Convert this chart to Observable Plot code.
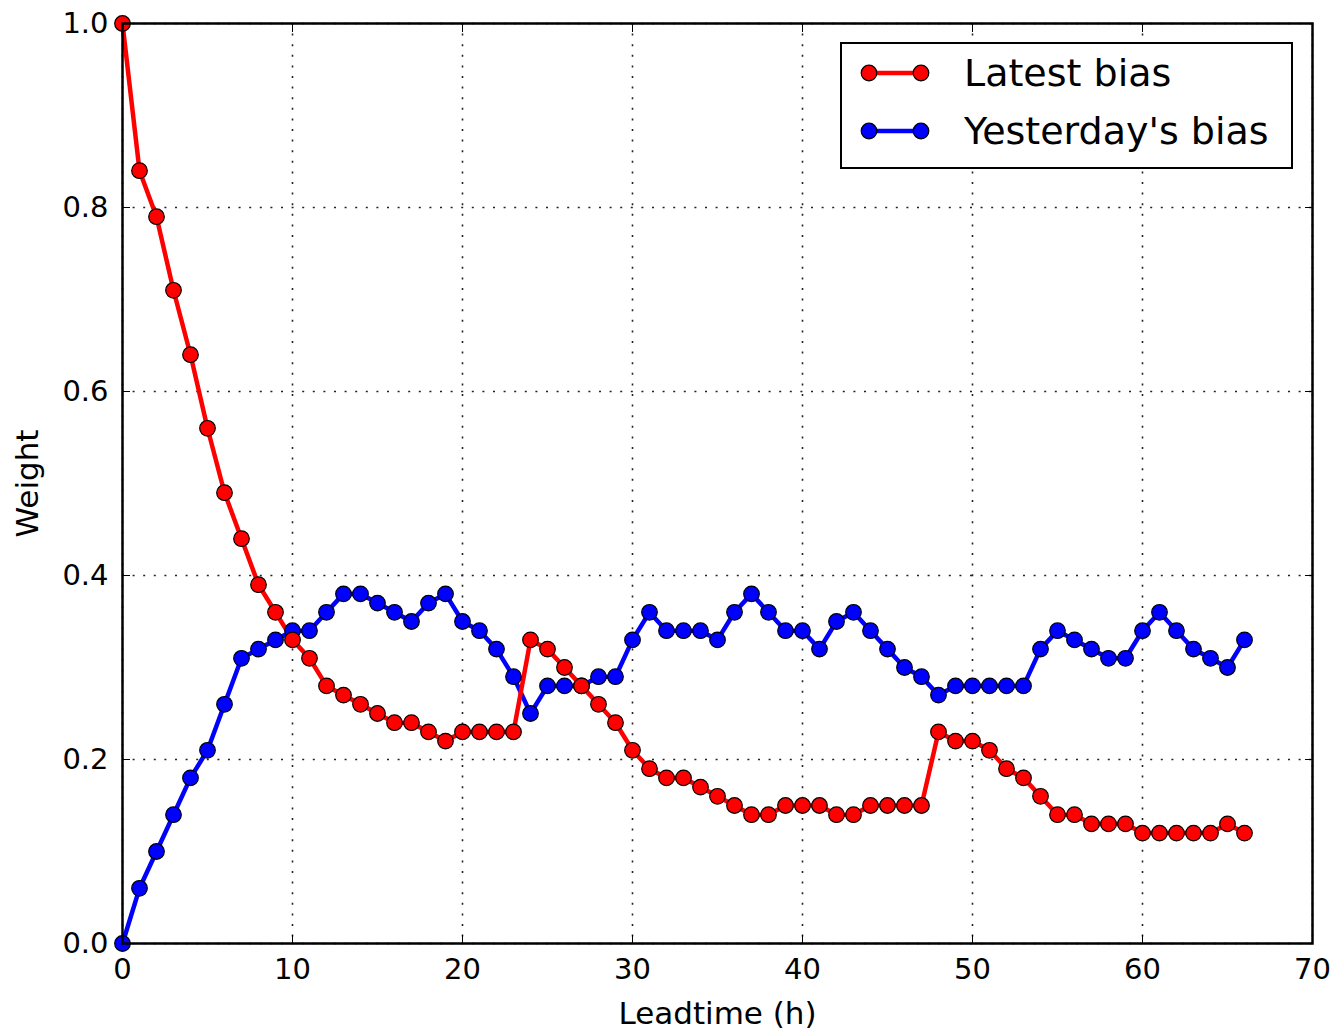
<!DOCTYPE html>
<html>
<head>
<meta charset="utf-8">
<script src="https://cdn.jsdelivr.net/npm/d3@7"></script>
<script src="https://cdn.jsdelivr.net/npm/@observablehq/plot@0.6"></script>
<style>
  html, body { margin: 0; padding: 0; background: white; }
  #wrap { position: relative; width: 1337px; height: 1031px; font-family: "DejaVu Sans", sans-serif; }
  #legend { position: absolute; left: 840px; top: 42px; width: 449px; height: 123px; border: 2px solid black; background: white; box-sizing: content-box; }
  .row { position: absolute; left: 0; height: 50px; display: flex; align-items: center; }
  .row svg { position: absolute; left: 17px; }
  .row span { position: absolute; left: 122px; font-size: 38px; white-space: nowrap; line-height: 1; }
</style>
</head>
<body>
<div id="wrap">
  <div id="chart"></div>
  <div id="legend"></div>
</div>
<script>
const leadtime = d3.range(0, 67);
const latestBias = [1.00, 0.84, 0.79, 0.71, 0.64, 0.56, 0.49, 0.44, 0.39, 0.36,
  0.33, 0.31, 0.28, 0.27, 0.26, 0.25, 0.24, 0.24, 0.23, 0.22,
  0.23, 0.23, 0.23, 0.23, 0.33, 0.32, 0.30, 0.28, 0.26, 0.24,
  0.21, 0.19, 0.18, 0.18, 0.17, 0.16, 0.15, 0.14, 0.14, 0.15,
  0.15, 0.15, 0.14, 0.14, 0.15, 0.15, 0.15, 0.15, 0.23, 0.22,
  0.22, 0.21, 0.19, 0.18, 0.16, 0.14, 0.14, 0.13, 0.13, 0.13,
  0.12, 0.12, 0.12, 0.12, 0.12, 0.13, 0.12];
const yesterdayBias = [0.00, 0.06, 0.10, 0.14, 0.18, 0.21, 0.26, 0.31, 0.32, 0.33,
  0.34, 0.34, 0.36, 0.38, 0.38, 0.37, 0.36, 0.35, 0.37, 0.38,
  0.35, 0.34, 0.32, 0.29, 0.25, 0.28, 0.28, 0.28, 0.29, 0.29,
  0.33, 0.36, 0.34, 0.34, 0.34, 0.33, 0.36, 0.38, 0.36, 0.34,
  0.34, 0.32, 0.35, 0.36, 0.34, 0.32, 0.30, 0.29, 0.27, 0.28,
  0.28, 0.28, 0.28, 0.28, 0.32, 0.34, 0.33, 0.32, 0.31, 0.31,
  0.34, 0.36, 0.34, 0.32, 0.31, 0.30, 0.33];
const xTicks = [0, 10, 20, 30, 40, 50, 60, 70];
const yTicks = [0.0, 0.2, 0.4, 0.6, 0.8, 1.0];
const seriesNames = ["Latest bias", "Yesterday's bias"];
const seriesColors = ["#ff0000", "#0000ff"];

const latestData = leadtime.map((x, i) => ({x, y: latestBias[i]}));
const yesterdayData = leadtime.map((x, i) => ({x, y: yesterdayBias[i]}));

const gridStyle = {stroke: "#222", strokeOpacity: 1, strokeWidth: 1.6, strokeDasharray: "2,8.6"};

const chart = Plot.plot({
  width: 1337,
  height: 1031,
  marginLeft: 122,
  marginRight: 25,
  marginTop: 23,
  marginBottom: 88,
  style: {fontFamily: "DejaVu Sans", fontSize: "29px", color: "black", background: "white", overflow: "visible"},
  x: {domain: [0, 70]},
  y: {domain: [0, 1]},
  marks: [
    Plot.gridX(xTicks, gridStyle),
    Plot.gridY(yTicks, gridStyle),
    Plot.lineY(yesterdayData, {x: "x", y: "y", stroke: seriesColors[1], strokeWidth: 4.5}),
    Plot.lineY(latestData, {x: "x", y: "y", stroke: seriesColors[0], strokeWidth: 4.5}),
    Plot.dot(yesterdayData, {x: "x", y: "y", r: 7.8, fill: seriesColors[1], stroke: "black", strokeWidth: 1.2}),
    Plot.dot(latestData, {x: "x", y: "y", r: 7.8, fill: seriesColors[0], stroke: "black", strokeWidth: 1.2}),
    Plot.axisX({ticks: xTicks, tickSize: -8, tickPadding: 23, tickFormat: d => String(d),
      label: "Leadtime (h)", labelAnchor: "center", labelArrow: "none", labelOffset: 80, fontSize: 29}),
    Plot.axisX({anchor: "top", ticks: xTicks, tickSize: -8, tickFormat: () => "", label: null}),
    Plot.axisY({ticks: yTicks, tickSize: -8, tickPadding: 22, tickFormat: d3.format(".1f"),
      label: "Weight", labelAnchor: "center", labelArrow: "none", labelOffset: 107, fontSize: 29}),
    Plot.axisY({anchor: "right", ticks: yTicks, tickSize: -8, tickFormat: () => "", label: null}),
    Plot.frame({stroke: "black", strokeWidth: 2.5})
  ]
});
chart.querySelectorAll("[aria-label$='axis label'] text").forEach(t => t.setAttribute("font-size", "31"));
document.getElementById("chart").appendChild(chart);

// Legend
const legend = document.getElementById("legend");
seriesNames.forEach((name, i) => {
  const row = document.createElement("div");
  row.className = "row";
  row.style.top = (4 + i * 58) + "px";
  row.style.width = "100%";
  row.innerHTML = `<svg width="80" height="50" viewBox="0 0 80 50">
      <line x1="10" y1="25" x2="62" y2="25" stroke="${seriesColors[i]}" stroke-width="4.5"/>
      <circle cx="10" cy="25" r="7.8" fill="${seriesColors[i]}" stroke="black" stroke-width="1.2"/>
      <circle cx="62" cy="25" r="7.8" fill="${seriesColors[i]}" stroke="black" stroke-width="1.2"/>
    </svg><span>${name}</span>`;
  legend.appendChild(row);
});
</script>
</body>
</html>
